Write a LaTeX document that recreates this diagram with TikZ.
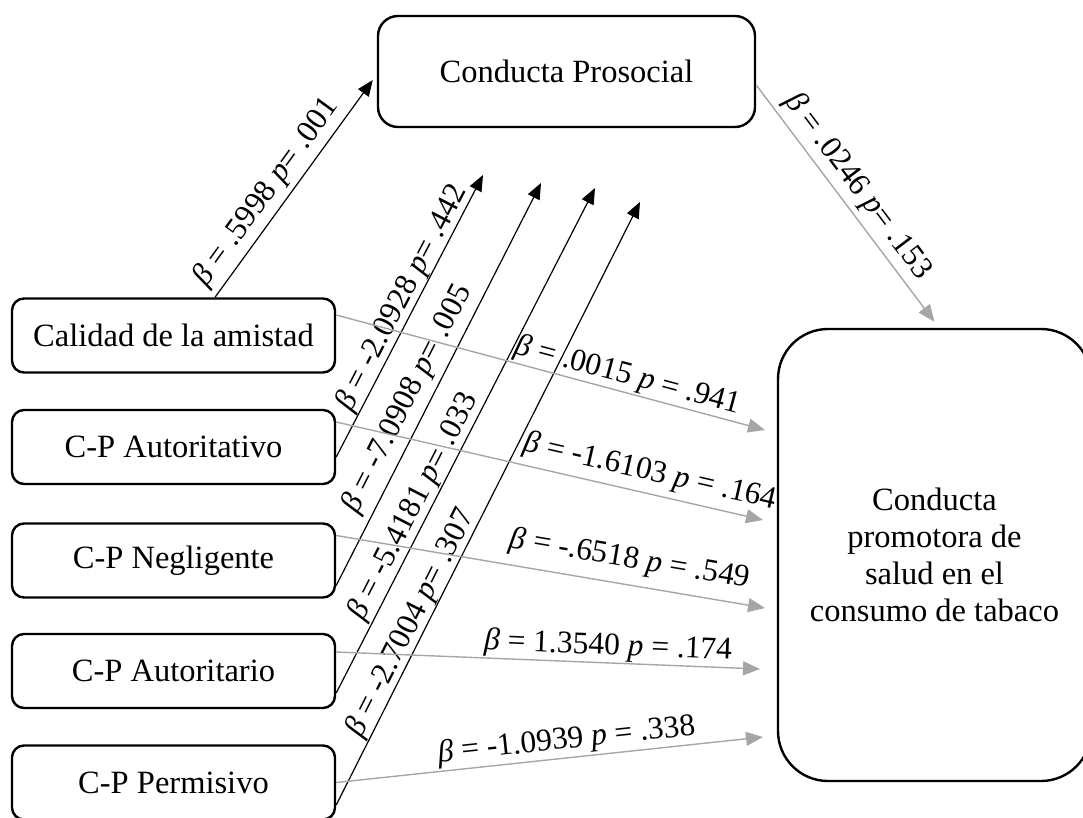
\documentclass[tikz,border=0pt]{standalone}
\usepackage{fontspec}
\setmainfont{Liberation Serif}
\usetikzlibrary{arrows.meta}
\newcommand{\lbeta}{\textit{β}}
\newcommand{\lpv}{\textit{p}}
\begin{document}
\begin{tikzpicture}[x=1pt,y=-1pt,
  box/.style={draw, line width=2.4pt, rounded corners=12pt, minimum width=323pt,
    minimum height=74pt, font=\fontsize{32.5}{37}\selectfont, inner sep=0pt},
  blk/.style={line width=1.2pt, -{Triangle[length=16pt,width=13pt]}},
  gry/.style={line width=1.4pt, draw=black!35, -{Triangle[length=17pt,width=14pt]}},
  lab/.style={sloped, font=\fontsize{31.5}{34}\selectfont, inner sep=0pt, text=black}
]
\useasboundingbox (0,0) rectangle (1083,817);

% boxes
\node[box] (cal) at (173.5,335.5) {Calidad de la amistad};
\node[box] (aut) at (173.5,447) {C-P Autoritativo};
\node[box] (neg) at (173.5,560.5) {C-P Negligente};
\node[box] (ari) at (173.5,671) {C-P Autoritario};
\node[box] (per) at (173.5,782.5) {C-P Permisivo};
\node[box, minimum width=377pt, minimum height=111pt, rounded corners=20pt] (pro) at (566.5,71.5) {Conducta Prosocial};
\node[box, minimum width=313pt, minimum height=452pt, rounded corners=50pt, align=center] (tgt) at (934.5,555)
  {Conducta\\promotora de\\salud en el\\consumo de tabaco};

% free ends
\coordinate (t2) at (483,175);
\coordinate (t3) at (541,183);
\coordinate (t4) at (595,188);
\coordinate (t5) at (640,202);
\coordinate (h1) at (765,430);
\coordinate (h2) at (763,520);
\coordinate (h3) at (765,608);
\coordinate (h4) at (760,669);
\coordinate (h5) at (763,737);

% black arrows
\draw[blk] ([xshift=41.5pt]cal.north) -- node[lab,pos=0.43,above=5pt] {\lbeta{} = .5998 \lpv= .001} ([xshift=-4pt,yshift=-8.5pt]pro.west);
\draw[blk] ([yshift=-10pt]aut.east) -- node[lab,pos=0.54,above=0pt] {\lbeta{} = -2.0928 \lpv= .442} (t2);
\draw[blk] ([yshift=-25pt]neg.east) -- node[lab,pos=0.44,above=6pt] {\lbeta{} = -7.0908 \lpv= .005} (t3);
\draw[blk] ([yshift=-22pt]ari.east) -- node[lab,pos=0.355,above=1pt] {\lbeta{} = -5.4181 \lpv= .033} (t4);
\draw[blk] ([yshift=-22.5pt]per.east) -- node[lab,pos=0.29,above=0pt] {\lbeta{} = -2.7004 \lpv= .307} (t5);

% gray arrows
\draw[gry] ([yshift=-13.5pt]pro.east) -- node[lab,pos=0.48,above=5pt] {\lbeta{} = .0246 \lpv= .153} ([yshift=6pt]tgt.north);
\draw[gry] ([yshift=20.5pt]cal.east) -- node[lab,pos=0.67,above=1pt] {\lbeta{} = .0015 \lpv{} = .941} (h1);
\draw[gry] ([yshift=25pt]aut.east) -- node[lab,pos=0.724,above=6pt] {\lbeta{} = -1.6103 \lpv{} = .164} (h2);
\draw[gry] ([yshift=25pt]neg.east) -- node[lab,pos=0.675,above=10pt] {\lbeta{} = -.6518 \lpv{} = .549} (h3);
\draw[gry] ([yshift=19pt]ari.east) -- node[lab,pos=0.64,above=1pt] {\lbeta{} = 1.3540 \lpv{} = .174} (h4);
\draw[gry] (per.east) -- node[lab,pos=0.544,above=2pt] {\lbeta{} = -1.0939 \lpv{} = .338} (h5);
\end{tikzpicture}
\end{document}
